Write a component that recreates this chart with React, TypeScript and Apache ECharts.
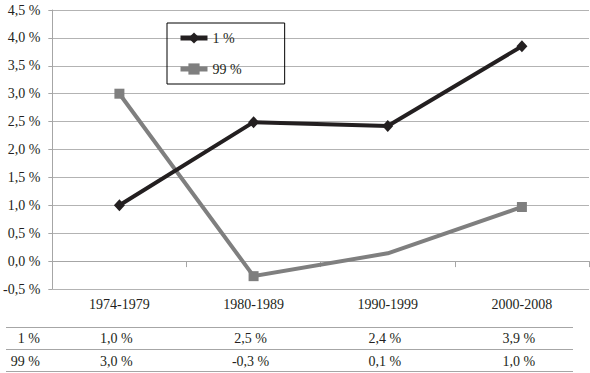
import React, { useEffect, useRef } from "react";
import * as echarts from "echarts";

const categories = ["1974-1979", "1980-1989", "1990-1999", "2000-2008"];
const seriesNames = ["1 %", "99 %"];
const top1 = [1.0, 2.49, 2.42, 3.85];
const bottom99 = [3.0, -0.27, 0.14, 0.97];
const yTicks = [-0.5, 0, 0.5, 1, 1.5, 2, 2.5, 3, 3.5, 4, 4.5];
const hiddenMarker99 = [2];

const fmt = (v: number) => v.toFixed(1).replace(".", ",") + " %";

const TEXT = "#231f20";
const FONT = "Times New Roman";

export default function App() {
  const ref = useRef<HTMLDivElement>(null);
  useEffect(() => {
    document.body.style.margin = "0";
    const chart = echarts.init(ref.current!, null, { renderer: "svg" });
    const option: any = {
      animation: false,
      textStyle: { fontFamily: FONT, color: TEXT },
      grid: { left: 52, right: 1, top: 10, bottom: 84, containLabel: false },
      legend: {
        orient: "vertical",
        left: 167,
        top: 23,
        padding: [8, 43, 8, 11],
        itemGap: 17,
        itemWidth: 27,
        itemHeight: 14,
        borderColor: "#000",
        borderWidth: 1,
        lineStyle: { width: 5 },
        textStyle: { fontFamily: FONT, fontSize: 14, color: TEXT },
        data: seriesNames,
      },
      xAxis: {
        type: "category",
        data: categories,
        boundaryGap: true,
        axisLine: { lineStyle: { color: "#a6a6a6", width: 1 } },
        axisTick: { show: true, length: 6, lineStyle: { color: "#a6a6a6" } },
        axisLabel: { fontFamily: FONT, fontSize: 14, color: TEXT, margin: 8 },
        splitLine: { show: false },
      },
      yAxis: {
        type: "value",
        min: -0.5,
        max: 4.5,
        interval: 0.5,
        axisLine: { show: true, lineStyle: { color: "#a6a6a6", width: 1 } },
        axisTick: { show: true, length: 4, lineStyle: { color: "#a6a6a6" } },
        axisLabel: {
          fontFamily: FONT,
          fontSize: 14,
          color: TEXT,
          margin: 12,
          formatter: (v: number) => (yTicks.includes(Math.round(v * 10) / 10) ? fmt(v) : ""),
        },
        splitLine: { show: true, lineStyle: { color: "#b3b3b3", width: 1 } },
      },
      series: [
        {
          name: seriesNames[0],
          type: "line",
          data: top1,
          symbol: "diamond",
          symbolSize: [11, 12],
          lineStyle: { color: "#231f20", width: 4 },
          itemStyle: { color: "#231f20" },
          z: 3,
        },
        {
          name: seriesNames[1],
          type: "line",
          data: bottom99.map((v, i) =>
            hiddenMarker99.includes(i) ? { value: v, symbol: "none" } : v
          ),
          symbol: "rect",
          symbolSize: 10,
          lineStyle: { color: "#7f7f7f", width: 4 },
          itemStyle: { color: "#7f7f7f" },
          z: 2,
        },
      ],
    };
    chart.setOption(option);

    const rows = [
      { label: seriesNames[0], values: top1 },
      { label: seriesNames[1], values: bottom99 },
    ];
    const rowY = [338, 361];
    const lineY = [327, 349, 371];
    const elements: any[] = [];
    lineY.forEach((y) =>
      elements.push({
        type: "line",
        shape: { x1: 6, y1: y + 0.5, x2: 573, y2: y + 0.5 },
        style: { stroke: "#a6a6a6", lineWidth: 1 },
      })
    );
    rows.forEach((r, i) => {
      elements.push({
        type: "text",
        x: 40,
        y: rowY[i],
        style: {
          text: r.label,
          fontFamily: FONT,
          fontSize: 14,
          fill: TEXT,
          align: "right",
          verticalAlign: "middle",
        },
      });
      r.values.forEach((v, j) => {
        const px = chart.convertToPixel({ xAxisIndex: 0 }, categories[j]) as number;
        elements.push({
          type: "text",
          x: px - 3,
          y: rowY[i],
          style: {
            text: fmt(v),
            fontFamily: FONT,
            fontSize: 14,
            fill: TEXT,
            align: "center",
            verticalAlign: "middle",
          },
        });
      });
    });
    chart.setOption({ graphic: elements });
    return () => chart.dispose();
  }, []);
  return <div ref={ref} style={{ width: 590, height: 373 }} />;
}
